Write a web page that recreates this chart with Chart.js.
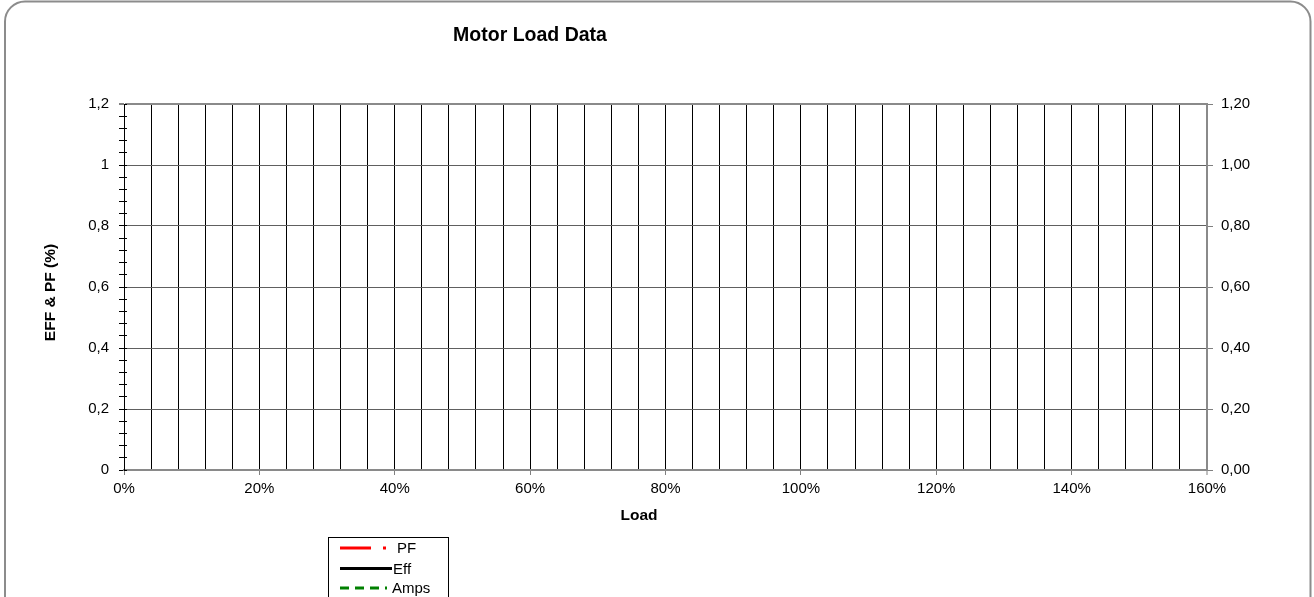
<!DOCTYPE html>
<html>
<head>
<meta charset="utf-8">
<script src="https://cdn.jsdelivr.net/npm/chart.js@4/dist/chart.umd.min.js"></script>
<style>
  html, body { margin: 0; padding: 0; background: #ffffff; }
  #wrap { position: relative; width: 1314px; height: 597px; }
</style>
</head>
<body>
<div id="wrap"><canvas id="c" width="1314" height="597"></canvas></div>
<script>
// ---- Data (chart has no plotted values) ----
const seriesNames = ['PF', 'Eff', 'Amps'];
const pfValues = [];
const effValues = [];
const ampsValues = [];
const xRange = [0, 1.6];        // Load 0% .. 160%
const yLeftRange = [0, 1.2];    // EFF & PF
const yRightRange = [0, 1.2];   // right axis
const chartTitle = 'Motor Load Data';
const xTitle = 'Load';
const yTitle = 'EFF & PF (%)';

const FONT = "'Liberation Sans', Arial, sans-serif";
const FRAME = '#8a8a8a';
const isMult = (v, step) => Math.abs(v / step - Math.round(v / step)) < 1e-6;
const near = (a, b) => Math.abs(a - b) < 1e-6;

const decorPlugin = {
  id: 'decor',
  beforeDraw(chart) {
    const ctx = chart.ctx;
    ctx.save();
    ctx.fillStyle = '#ffffff';
    ctx.fillRect(0, 0, chart.width, chart.height);
    // outer rounded frame
    ctx.strokeStyle = '#8c8c8c';
    ctx.lineWidth = 2;
    const x = 5, y = 1.5, w = 1305.5, h = 700, r = 20;
    ctx.beginPath();
    ctx.moveTo(x + r, y);
    ctx.lineTo(x + w - r, y);
    ctx.arcTo(x + w, y, x + w, y + r, r);
    ctx.lineTo(x + w, y + h);
    ctx.lineTo(x, y + h);
    ctx.lineTo(x, y + r);
    ctx.arcTo(x, y, x + r, y, r);
    ctx.stroke();
    ctx.restore();
  },
  afterDraw(chart) {
    const ctx = chart.ctx;
    const ca = chart.chartArea;
    ctx.save();
    // inward part of left-axis ticks
    const ys = chart.scales.y;
    ctx.strokeStyle = '#000000';
    ctx.lineWidth = 1;
    ys.ticks.forEach((t, i) => {
      const py = Math.round(ys.getPixelForTick(i) - 0.5) + 0.5;
      ctx.beginPath();
      ctx.moveTo(ca.left, py);
      ctx.lineTo(ca.left + 3, py);
      ctx.stroke();
    });
    // title
    ctx.fillStyle = '#000000';
    ctx.textAlign = 'center';
    ctx.textBaseline = 'alphabetic';
    ctx.font = 'bold 19.5px ' + FONT;
    ctx.fillText(chartTitle, 530, 41);
    // x axis title
    ctx.font = 'bold 15.5px ' + FONT;
    ctx.fillText(xTitle, 639, 520);
    // y axis title
    ctx.save();
    ctx.translate(55, 292.5);
    ctx.rotate(-Math.PI / 2);
    ctx.fillText(yTitle, 0, 0);
    ctx.restore();
    // legend
    ctx.strokeStyle = '#000000';
    ctx.lineWidth = 1;
    ctx.strokeRect(328.5, 537.5, 120, 100);
    const rows = [548, 568.5, 588];
    ctx.font = '15px ' + FONT;
    ctx.textAlign = 'left';
    ctx.textBaseline = 'middle';
    chart.data.datasets.forEach((ds, i) => {
      const ly = rows[i];
      ctx.save();
      ctx.strokeStyle = ds.borderColor;
      ctx.lineWidth = ds.borderWidth;
      ctx.lineCap = 'butt';
      ctx.setLineDash(ds.borderDash || []);
      ctx.beginPath();
      ctx.moveTo(340, ly);
      ctx.lineTo(ds.legendEnd, ly);
      ctx.stroke();
      ctx.restore();
      ctx.fillStyle = '#000000';
      ctx.fillText(ds.label, ds.legendText, ly + 1);
    });
    ctx.restore();
  }
};

new Chart(document.getElementById('c'), {
  type: 'line',
  data: {
    datasets: [
      { label: seriesNames[0], data: pfValues, borderColor: '#ff0000', borderWidth: 3, borderDash: [31, 12, 3, 40], yAxisID: 'y', legendEnd: 387, legendText: 397 },
      { label: seriesNames[1], data: effValues, borderColor: '#000000', borderWidth: 3, borderDash: [], yAxisID: 'y', legendEnd: 392, legendText: 393 },
      { label: seriesNames[2], data: ampsValues, borderColor: '#008000', borderWidth: 3, borderDash: [9, 6], yAxisID: 'y2', legendEnd: 387, legendText: 392 }
    ]
  },
  options: {
    responsive: false,
    animation: false,
    devicePixelRatio: 1,
    layout: { padding: { left: 0, right: 0, top: 104, bottom: 0 } },
    plugins: { legend: { display: false }, title: { display: false }, tooltip: { enabled: false } },
    scales: {
      x: {
        type: 'linear',
        min: xRange[0], max: xRange[1],
        afterFit(s) { s.height = 127; },
        border: { display: true, color: FRAME, width: 2 },
        grid: {
          color: (c) => (c.tick && near(c.tick.value, xRange[1])) ? FRAME : '#000000',
          lineWidth: (c) => (c.tick && near(c.tick.value, xRange[1])) ? 2 : 1,
          tickColor: (c) => (c.tick && isMult(c.tick.value, 0.2)) ? '#808080' : 'rgba(0,0,0,0)',
          tickWidth: 1,
          tickLength: 5,
          drawTicks: true
        },
        ticks: {
          stepSize: 0.04,
          maxTicksLimit: 200,
          autoSkip: false,
          maxRotation: 0,
          padding: 5,
          color: '#000000',
          font: { family: FONT, size: 15 },
          callback: (v) => isMult(v, 0.2) ? Math.round(v * 100) + '%' : ''
        }
      },
      y: {
        type: 'linear',
        position: 'left',
        min: yLeftRange[0], max: yLeftRange[1],
        afterFit(s) { s.width = 124; },
        border: { display: true, color: '#000000', width: 1 },
        grid: {
          color: (c) => {
            if (!c.tick || !isMult(c.tick.value, 0.2)) return 'rgba(0,0,0,0)';
            return near(c.tick.value, yLeftRange[1]) ? FRAME : '#606060';
          },
          lineWidth: (c) => (c.tick && near(c.tick.value, yLeftRange[1])) ? 2 : 1,
          tickColor: '#000000',
          tickWidth: 1,
          tickLength: 5,
          drawTicks: true
        },
        ticks: {
          stepSize: 0.04,
          maxTicksLimit: 200,
          autoSkip: false,
          padding: 10,
          color: '#000000',
          font: { family: FONT, size: 15 },
          callback: (v) => isMult(v, 0.2) ? String(Math.round(v * 10) / 10).replace('.', ',') : ''
        }
      },
      y2: {
        type: 'linear',
        position: 'right',
        min: yRightRange[0], max: yRightRange[1],
        afterFit(s) { s.width = 107; },
        border: { display: true, color: FRAME, width: 2 },
        grid: {
          drawOnChartArea: false,
          tickColor: '#808080',
          tickWidth: 1,
          tickLength: 6,
          drawTicks: true
        },
        ticks: {
          stepSize: 0.2,
          autoSkip: false,
          padding: 8,
          color: '#000000',
          font: { family: FONT, size: 15 },
          callback: (v) => v.toFixed(2).replace('.', ',')
        }
      }
    }
  },
  plugins: [decorPlugin]
});
</script>
</body>
</html>
